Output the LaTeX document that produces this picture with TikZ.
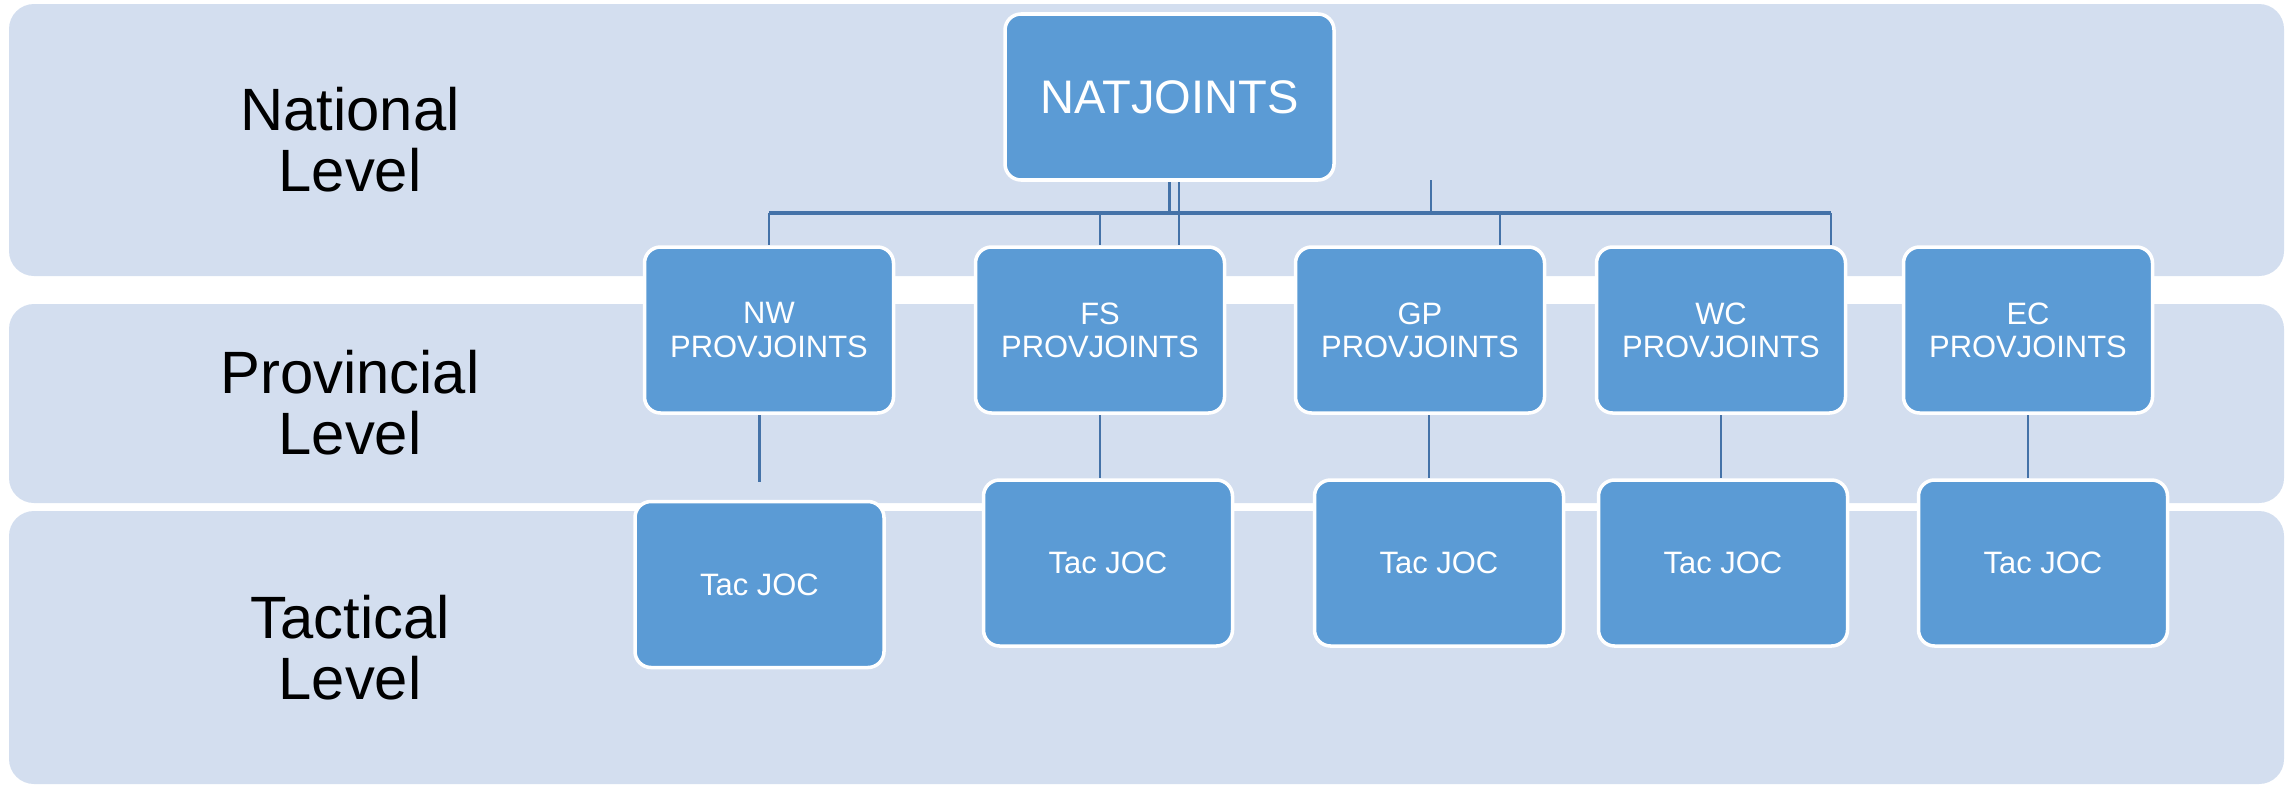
\documentclass[tikz,border=0pt]{standalone}
\usepackage{fontspec}
\setmainfont{Liberation Sans}
\usetikzlibrary{backgrounds}
\definecolor{bandblue}{RGB}{211,222,239}
\definecolor{boxblue}{RGB}{91,155,213}
\definecolor{linkblue}{RGB}{68,114,168}
\tikzset{
  unitbox/.style={draw=white, line width=1pt, fill=boxblue, rounded corners=1.6mm,
    text=white, align=center, inner sep=0pt},
  provbox/.style={unitbox, minimum width=24.9mm, minimum height=16.6mm,
    font=\fontsize{8.8}{9.4}\selectfont},
  tacbox/.style={provbox},
  natbox/.style={unitbox, minimum width=32.9mm, minimum height=16.6mm,
    font=\fontsize{13.4}{16}\selectfont},
  levellbl/.style={align=center, inner sep=0pt, font=\fontsize{17}{17.4}\selectfont},
  band/.style={fill=bandblue, rounded corners=2.5mm},
  link/.style={draw=linkblue, line width=0.7pt},
  buslink/.style={draw=linkblue, line width=1.1pt}
}
\begin{document}
\begin{tikzpicture}[x=0.1mm,y=-0.1mm]
\useasboundingbox (0,0) rectangle (2290,787);
%%% level labels
\node[levellbl] (natlbl)  at (350,140) {National\\Level};
\node[levellbl] (provlbl) at (350,403) {Provincial\\Level};
\node[levellbl] (taclbl)  at (350,648) {Tactical\\Level};
%%% national level
\node[natbox] (nat) at (1169.5,97) {NATJOINTS};
%%% provincial level
\node[provbox] (nw) at (769,330)  {NW\\PROVJOINTS};
\node[provbox] (fs) at (1100,330) {FS\\PROVJOINTS};
\node[provbox] (gp) at (1420,330) {GP\\PROVJOINTS};
\node[provbox] (wc) at (1721,330) {WC\\PROVJOINTS};
\node[provbox] (ec) at (2028,330) {EC\\PROVJOINTS};
%%% tactical level
\node[tacbox] (nwtac) at (759.5,584.5) {Tac JOC};
\node[tacbox] (fstac) at (1108,563)   {Tac JOC};
\node[tacbox] (gptac) at (1439,563)   {Tac JOC};
\node[tacbox] (wctac) at (1723,563)   {Tac JOC};
\node[tacbox] (ectac) at (2043,563)   {Tac JOC};
\coordinate (busL) at (769,213);
\coordinate (busR) at (1831,213);
\coordinate (stubT) at (1431,180);
\begin{scope}[on background layer]
% bands
\fill[band] (9,4)   rectangle (2284,276);
\fill[band] (9,304) rectangle (2284,503);
\fill[band] (9,511) rectangle (2284,784);
% national to provincial
\draw[buslink] (busL) -- (busR);
\draw[link] (nat.south) -- (nat.south |- busL);
\draw[link] ([xshift=0.95mm]nat.south) -- ([xshift=0.95mm]nat.south |- fs.north);
\draw[link] (stubT) -- (stubT |- busL);
\draw[link] (busL) -- (nw.north);
\draw[link] (fs.north |- busL) -- (fs.north);
\draw[link] ([xshift=8mm]gp.north |- busL) -- ([xshift=8mm]gp.north);
\draw[link] (busR) -- (busR |- wc.north);
% provincial to tactical
\draw[link] (nwtac.north |- nw.south) -- ++(0,67);
\draw[link] (fs.south) -- (fs.south |- fstac.north);
\draw[link] ([xshift=0.9mm]gp.south) -- ([xshift=0.9mm]gp.south |- gptac.north);
\draw[link] (wc.south) -- (wc.south |- wctac.north);
\draw[link] (ec.south) -- (ec.south |- ectac.north);
\end{scope}
\end{tikzpicture}
\end{document}
